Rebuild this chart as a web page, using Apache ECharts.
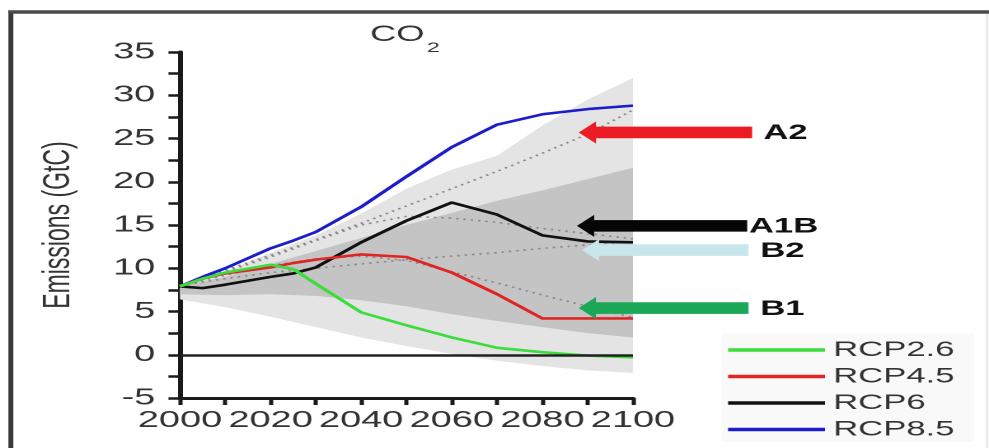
<!DOCTYPE html>
<html><head><meta charset="utf-8">
<script src="https://cdn.jsdelivr.net/npm/echarts@6/dist/echarts.min.js"></script>
<style>
html,body{margin:0;padding:0;background:#fff;overflow:hidden;width:989px;height:448px}
#chart{width:600px;height:448px;transform:scaleX(1.648333);transform-origin:0 0}
</style></head><body><div id="chart"></div>
<script>
// ---- data ----
const years = [2000, 2005, 2010, 2020, 2025, 2030, 2040, 2050, 2060, 2070, 2080, 2090, 2100];
const rcp26 = [7.9, 8.8, 9.5, 10.4, 9.9, 8.2, 4.9, 3.4, 2.0, 0.8, 0.3, -0.1, -0.3];
const rcp45 = [7.9, 8.8, 9.4, 10.1, 10.6, 11.0, 11.6, 11.3, 9.5, 7.0, 4.2, 4.2, 4.2];
const rcp60 = [7.9, 7.7, 8.1, 9.0, 9.4, 10.1, 13.0, 15.5, 17.6, 16.2, 13.8, 13.1, 13.0];
const rcp85 = [7.9, 9.0, 10.0, 12.3, 13.2, 14.2, 17.1, 20.6, 24.0, 26.6, 27.8, 28.4, 28.8];

const sresYears = [2000, 2010, 2020, 2030, 2040, 2050, 2060, 2070, 2080, 2090, 2100];
const sresA2  = [8.0, 9.8, 11.5, 13.3, 15.2, 17.2, 19.2, 21.2, 23.3, 25.5, 28.3];
const sresA1B = [8.0, 9.6, 11.3, 13.2, 15.0, 16.0, 15.8, 15.3, 14.6, 14.0, 13.4];
const sresB2  = [8.0, 8.8, 9.5, 10.0, 10.5, 11.0, 11.4, 11.8, 12.3, 12.7, 13.1];
const sresB1  = [8.0, 9.2, 10.3, 11.1, 11.4, 10.9, 9.6, 8.3, 6.9, 5.6, 4.3];

const bandYears  = [2000, 2010, 2020, 2030, 2040, 2050, 2060, 2070, 2080, 2090, 2100];
const lightUpper = [8.0, 9.6, 11.8, 13.8, 16.3, 19.2, 21.4, 23.0, 26.5, 29.5, 32.0];
const lightLower = [6.4, 5.5, 4.4, 3.2, 2.0, 1.0, 0.1, -0.7, -1.3, -1.8, -2.1];
const darkUpper  = [8.0, 9.0, 10.5, 12.0, 13.5, 15.0, 16.4, 17.8, 19.0, 20.3, 21.6];
const darkLower  = [7.0, 6.9, 7.0, 6.8, 6.3, 5.6, 4.7, 3.9, 3.2, 2.5, 2.0];

const arrowNames   = ['A2', 'A1B', 'B2', 'B1'];
const arrowValue   = [25.7, 14.9, 12.1, 5.4];
const arrowTip     = [2088.7, 2088.3, 2089.4, 2088.7];
const arrowTail    = [2127.3, 2126.2, 2126.5, 2126.5];
const arrowLabelAt = [2129.8, 2126.6, 2129.1, 2129.1];
const arrowColors  = ['#ec1c24', '#060606', '#c8e6ec', '#1aa857'];

const legendNames = ['RCP2.6', 'RCP4.5', 'RCP6', 'RCP8.5'];
const xTickValues = [2000, 2020, 2040, 2060, 2080, 2100];
const xTickLabels = ['2000', '2020', '2040', '2060', '2080', '2100'];
const yTickValues = [-5, 0, 5, 10, 15, 20, 25, 30, 35];
const yTickLabels = ['-5', '0', '5', '10', '15', '20', '25', '30', '35'];

// ---- chart ----
const FONT = 'Liberation Sans';
const pairs = (xs, ys) => xs.map((x, i) => [x, ys[i]]);

function band(upper, lower, color, z) {
  return {
    type: 'custom', xAxisIndex: 0, yAxisIndex: 0, silent: true, z: z,
    data: [[bandYears[0], upper[0]]],
    renderItem(params, api) {
      const pts = [];
      bandYears.forEach((y, i) => pts.push(api.coord([y, upper[i]])));
      for (let i = bandYears.length - 1; i >= 0; i--) pts.push(api.coord([bandYears[i], lower[i]]));
      return { type: 'polygon', shape: { points: pts }, style: { fill: color } };
    }
  };
}
function dotted(ys) {
  return {
    type: 'line', xAxisIndex: 0, yAxisIndex: 0, silent: true, z: 3, showSymbol: false,
    data: pairs(sresYears, ys),
    lineStyle: { color: '#8a8a8a', width: 1.6, type: [1.5, 3] }
  };
}
function rcp(name, ys, color, extra) {
  return Object.assign({
    type: 'line', name: name, xAxisIndex: 0, yAxisIndex: 0, z: 4, showSymbol: false, symbol: 'none',
    data: pairs(years, ys),
    itemStyle: { color: color },
    lineStyle: { color: color, width: 2.6 }
  }, extra || {});
}
const tickStyle = { color: '#1a1a1a', width: 2.5 };

const option = {
  animation: false,
  backgroundColor: '#ffffff',
  title: [
    { text: 'CO', left: 224.5, top: 24, padding: 0, textStyle: { fontSize: 22, fontWeight: 'normal', color: '#333', fontFamily: FONT } },
    { text: '2', left: 259, top: 41, padding: 0, textStyle: { fontSize: 14, fontWeight: 'normal', color: '#333', fontFamily: FONT } }
  ],
  legend: {
    orient: 'vertical', left: 437.7, top: 333.5, height: 110, padding: [6, 12, 2, 4],
    backgroundColor: '#f9f9f9', itemWidth: 58.8, itemHeight: 3.5, itemGap: 5.5, icon: 'rect',
    data: legendNames,
    textStyle: { fontSize: 21, color: '#333', fontFamily: FONT }
  },
  grid: [
    { left: 109.2, top: 52, width: 274.8, height: 346 },
    { left: 109.2, top: 52, width: 494.64, height: 346, show: false }
  ],
  xAxis: [
    {
      type: 'value', gridIndex: 0, min: 2000, max: 2100, interval: 20,
      axisLine: { show: true, onZero: false, lineStyle: { color: '#1a1a1a', width: 3 } },
      axisTick: { show: true, length: 7, lineStyle: tickStyle },
      minorTick: { show: true, splitNumber: 2, length: 7, lineStyle: tickStyle },
      splitLine: { show: false }, minorSplitLine: { show: false },
      axisLabel: { margin: 11, fontSize: 23, color: '#333', fontFamily: FONT,
        formatter: v => { const i = xTickValues.indexOf(v); return i >= 0 ? xTickLabels[i] : ''; } }
    },
    { type: 'value', gridIndex: 1, min: 2000, max: 2180, show: false }
  ],
  yAxis: [
    {
      type: 'value', gridIndex: 0, min: -5, max: 35, interval: 5, position: 'left',
      axisLine: { show: true, onZero: false, lineStyle: { color: '#1a1a1a', width: 3 } },
      axisTick: { show: true, length: 7, lineStyle: tickStyle },
      minorTick: { show: true, splitNumber: 2, length: 7, lineStyle: tickStyle },
      splitLine: { show: false }, minorSplitLine: { show: false },
      axisLabel: { margin: 15, fontSize: 23, color: '#333', fontFamily: FONT,
        formatter: v => { const i = yTickValues.indexOf(v); return i >= 0 ? yTickLabels[i] : ''; } },
      name: 'Emissions (GtC)', nameLocation: 'middle', nameGap: 62, nameRotate: 90,
      nameTextStyle: { fontSize: 23, color: '#333', fontFamily: FONT }
    },
    { type: 'value', gridIndex: 1, min: -5, max: 35, show: false }
  ],
  graphic: [
    { type: 'line', shape: { x1: 6.6, y1: 12, x2: 6.6, y2: 460 }, style: { stroke: '#3a3a3a', lineWidth: 3 }, silent: true },
    { type: 'line', shape: { x1: 5, y1: 12, x2: 600, y2: 12 }, style: { stroke: '#4a4a4a', lineWidth: 3.5 }, silent: true },
    { type: 'line', shape: { x1: 598.8, y1: 14, x2: 598.8, y2: 460 }, style: { stroke: '#e2e2e2', lineWidth: 1 }, silent: true }
  ],
  series: [
    band(lightUpper, lightLower, '#e4e4e4', 1),
    band(darkUpper, darkLower, '#c4c4c4', 2),
    dotted(sresA2), dotted(sresA1B), dotted(sresB2), dotted(sresB1),
    rcp('RCP6', rcp60, '#111111'),
    rcp('RCP8.5', rcp85, '#1c1ccc'),
    rcp('RCP4.5', rcp45, '#e02424'),
    rcp('RCP2.6', rcp26, '#3ddc3d', {
      markLine: {
        silent: true, symbol: ['none', 'none'], label: { show: false },
        lineStyle: { color: '#222', width: 2.5, type: 'solid' },
        data: [{ yAxis: 0 }]
      }
    }),
    {
      type: 'custom', xAxisIndex: 1, yAxisIndex: 1, silent: true, z: 6,
      data: arrowNames.map((n, i) => [arrowTip[i], arrowValue[i], arrowTail[i], arrowLabelAt[i], i]),
      renderItem(params, api) {
        const i = api.value(4);
        const tip = api.coord([api.value(0), api.value(1)]);
        const tail = api.coord([api.value(2), api.value(1)]);
        const lab = api.coord([api.value(3), api.value(1)]);
        const hl = 10.5, hh = 11, sh = 5.8;
        const x0 = tip[0], x1 = tail[0], y = tip[1];
        return {
          type: 'group', children: [
            { type: 'polygon', shape: { points: [[x0, y], [x0 + hl, y - hh], [x0 + hl, y - sh], [x1, y - sh], [x1, y + sh], [x0 + hl, y + sh], [x0 + hl, y + hh]] },
              style: { fill: arrowColors[i] } },
            { type: 'text', x: lab[0], y: lab[1] + 1,
              style: { text: arrowNames[i], fill: '#111', fontSize: 21, fontWeight: 'bold', fontFamily: FONT, align: 'left', verticalAlign: 'middle' } }
          ]
        };
      }
    }
  ]
};
const chart = echarts.init(document.getElementById('chart'), null, { renderer: 'canvas', devicePixelRatio: 2 });
chart.setOption(option);
</script></body></html>
